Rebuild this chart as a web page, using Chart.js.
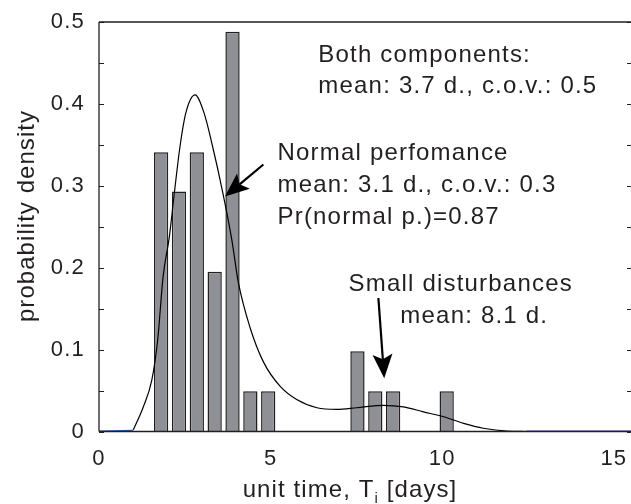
<!DOCTYPE html>
<html><head><meta charset="utf-8">
<script src="https://cdn.jsdelivr.net/npm/chart.js@4.4.0/dist/chart.umd.min.js"></script>
<style>html,body{margin:0;padding:0;background:#fff;}#wrap{width:631px;height:504px;}</style>
</head><body><div id="wrap"><canvas id="c" width="631" height="504"></canvas></div>
<script>
// ---- data ----
const binCenters = [1.81, 2.33, 2.85, 3.37, 3.89, 4.41, 4.93, 7.53, 8.05, 8.57, 10.13];
const binDensity = [0.341, 0.293, 0.341, 0.195, 0.488, 0.049, 0.049, 0.098, 0.049, 0.049, 0.049];
const curveX = [1.00, 1.29, 1.54, 1.71, 1.87, 2.05, 2.20, 2.36, 2.53, 2.80, 3.06, 3.31, 3.60, 3.87, 4.06, 4.40, 4.79, 5.28, 5.76, 6.35, 6.93, 7.51, 8.29, 8.87, 9.45, 10.04, 10.62, 11.20, 11.89, 12.47];
const curveY = [0.002, 0.030, 0.063, 0.112, 0.190, 0.238, 0.293, 0.348, 0.389, 0.411, 0.389, 0.348, 0.293, 0.234, 0.182, 0.127, 0.085, 0.055, 0.039, 0.029, 0.027, 0.029, 0.032, 0.030, 0.024, 0.018, 0.010, 0.004, 0.0005, 0];
const blueX = [0, 1.0, 6, 12.45, 15.5];
const blueY = [0, 0.001, null, 0, 0];
const xTicks = [0, 5, 10, 15];
const xTickLabels = ['0', '5', '10', '15'];
const yTicks = [0, 0.1, 0.2, 0.3, 0.4, 0.5];
const yTickLabels = ['0', '0.1', '0.2', '0.3', '0.4', '0.5'];
const yMinorTicks = [0, 0.05, 0.1, 0.15, 0.2, 0.25, 0.3, 0.35, 0.4, 0.45, 0.5];
const notes = [
  {text: 'Both components:', x: 6.39, y: 0.451},
  {text: 'mean: 3.7 d., c.o.v.: 0.5', x: 6.39, y: 0.413},
  {text: 'Normal perfomance', x: 5.20, y: 0.332},
  {text: 'mean: 3.1 d., c.o.v.: 0.3', x: 5.20, y: 0.2925},
  {text: 'Pr(normal p.)=0.87', x: 5.20, y: 0.2535},
  {text: 'Small disturbances', x: 7.27, y: 0.171},
  {text: 'mean: 8.1 d.', x: 8.78, y: 0.1325}
];
const arrows = [
  {from: [4.79, 0.326], to: [3.67, 0.287]},
  {from: [8.14, 0.163], to: [8.31, 0.065]}
];
const xTitle = ['unit time, T', 'i', ' [days]'];
const yTitle = 'probability density';

const FONT = '"Liberation Sans", Arial, Helvetica, sans-serif';
const TXT = '#231f20';

const deco = {
  id: 'deco',
  beforeDraw(chart) {
    const ctx = chart.ctx;
    ctx.save();
    ctx.fillStyle = '#fff';
    ctx.fillRect(0, 0, chart.width, chart.height);
    ctx.restore();
    ctx.letterSpacing = '1.2px';
  },
  afterDraw(chart) {
    const {ctx, chartArea: a, scales: {x, y}} = chart;
    ctx.save();
    ctx.strokeStyle = TXT;
    ctx.lineWidth = 1.3;
    ctx.beginPath();
    ctx.moveTo(a.left, a.top); ctx.lineTo(a.right, a.top);
    ctx.moveTo(a.left, a.top); ctx.lineTo(a.left, a.bottom);
    ctx.moveTo(a.left, a.bottom); ctx.lineTo(a.right, a.bottom);
    ctx.stroke();
    ctx.lineWidth = 1;
    ctx.beginPath();
    yMinorTicks.forEach(v => {
      const py = Math.round(y.getPixelForValue(v)) + 0.5;
      ctx.moveTo(a.left, py); ctx.lineTo(a.left + 5, py);
      ctx.moveTo(a.right, py); ctx.lineTo(a.right - 4, py);
    });
    ctx.stroke();

    // annotations
    ctx.fillStyle = TXT;
    ctx.font = '24px ' + FONT;
    ctx.letterSpacing = '1.2px';
    ctx.textAlign = 'left';
    ctx.textBaseline = 'alphabetic';
    notes.forEach(n => ctx.fillText(n.text, x.getPixelForValue(n.x), y.getPixelForValue(n.y)));

    // arrows
    arrows.forEach(ar => {
      const fx = x.getPixelForValue(ar.from[0]), fy = y.getPixelForValue(ar.from[1]);
      const tx = x.getPixelForValue(ar.to[0]), ty = y.getPixelForValue(ar.to[1]);
      const ang = Math.atan2(ty - fy, tx - fx);
      const c = Math.cos(ang), s = Math.sin(ang);
      const L = 24, W = 10, back = 5;
      ctx.strokeStyle = '#000';
      ctx.fillStyle = '#000';
      ctx.lineWidth = 2.2;
      ctx.beginPath();
      ctx.moveTo(fx, fy);
      ctx.lineTo(tx - (L - back) * c, ty - (L - back) * s);
      ctx.stroke();
      ctx.beginPath();
      ctx.moveTo(tx, ty);
      ctx.lineTo(tx - L * c - W * s, ty - L * s + W * c);
      ctx.lineTo(tx - (L - back) * c, ty - (L - back) * s);
      ctx.lineTo(tx - L * c + W * s, ty - L * s - W * c);
      ctx.closePath();
      ctx.fill();
    });

    // x title with subscript
    ctx.fillStyle = TXT;
    ctx.letterSpacing = '1.1px';
    ctx.font = '24px ' + FONT;
    const w1 = ctx.measureText(xTitle[0]).width;
    const w3 = ctx.measureText(xTitle[2]).width;
    ctx.font = '15px ' + FONT;
    const w2 = ctx.measureText(xTitle[1]).width;
    const cx = 350, base = 496.5;
    let sx = cx - (w1 + w2 + w3) / 2;
    ctx.font = '24px ' + FONT;
    ctx.fillText(xTitle[0], sx, base);
    ctx.font = '15px ' + FONT;
    ctx.fillText(xTitle[1], sx + w1, base + 6);
    ctx.font = '24px ' + FONT;
    ctx.fillText(xTitle[2], sx + w1 + w2, base);

    // y title
    ctx.save();
    ctx.translate(34, 216);
    ctx.rotate(-Math.PI / 2);
    ctx.textAlign = 'center';
    ctx.letterSpacing = '1.05px';
    ctx.fillText(yTitle, 0, 0);
    ctx.restore();

    ctx.restore();
  }
};

new Chart(document.getElementById('c'), {
  data: {
    datasets: [
      {
        type: 'line',
        data: curveX.map((v, i) => ({x: v, y: curveY[i]})),
        borderColor: '#000', borderWidth: 1.2, pointRadius: 0, fill: false,
        cubicInterpolationMode: 'monotone', order: 0
      },
      {
        type: 'bar',
        data: binCenters.map((v, i) => ({x: v, y: binDensity[i]})),
        backgroundColor: '#8f9095', borderColor: '#231f20', borderWidth: 1.5,
        barPercentage: 0.8, categoryPercentage: 1.0, order: 1
      },
      {
        type: 'line',
        data: blueX.map((v, i) => ({x: v, y: blueY[i]})),
        borderColor: '#2b5ca8', borderWidth: 1.8, pointRadius: 0, fill: false,
        spanGaps: false, order: 2
      }
    ]
  },
  options: {
    responsive: false,
    animation: false,
    layout: {padding: {top: 22, right: 0, left: 0, bottom: 0}},
    plugins: {legend: {display: false}, tooltip: {enabled: false}},
    scales: {
      x: {
        type: 'linear', min: 0, max: 15.5, offset: false,
        afterFit: s => { s.height = 72.5; s.paddingLeft = 0; s.paddingRight = 0; },
        afterBuildTicks: s => { s.ticks = xTicks.map(v => ({value: v})); },
        grid: {display: false, drawTicks: false, offset: false},
        border: {display: false},
        ticks: {
          padding: 14, maxRotation: 0, autoSkip: false, color: TXT,
          font: {family: FONT, size: 22},
          callback: v => { const i = xTicks.indexOf(v); return i >= 0 ? xTickLabels[i] : ''; }
        }
      },
      y: {
        type: 'linear', min: 0, max: 0.5,
        afterFit: s => { s.width = 99; s.paddingTop = 0; s.paddingBottom = 0; },
        afterBuildTicks: s => { s.ticks = yTicks.map(v => ({value: v})); },
        grid: {display: false, drawTicks: false},
        border: {display: false},
        ticks: {
          padding: 14, autoSkip: false, color: TXT,
          font: {family: FONT, size: 22},
          callback: v => { const i = yTicks.findIndex(t => Math.abs(t - v) < 1e-9); return i >= 0 ? yTickLabels[i] : ''; }
        }
      }
    }
  },
  plugins: [deco]
});
</script>
</body></html>
